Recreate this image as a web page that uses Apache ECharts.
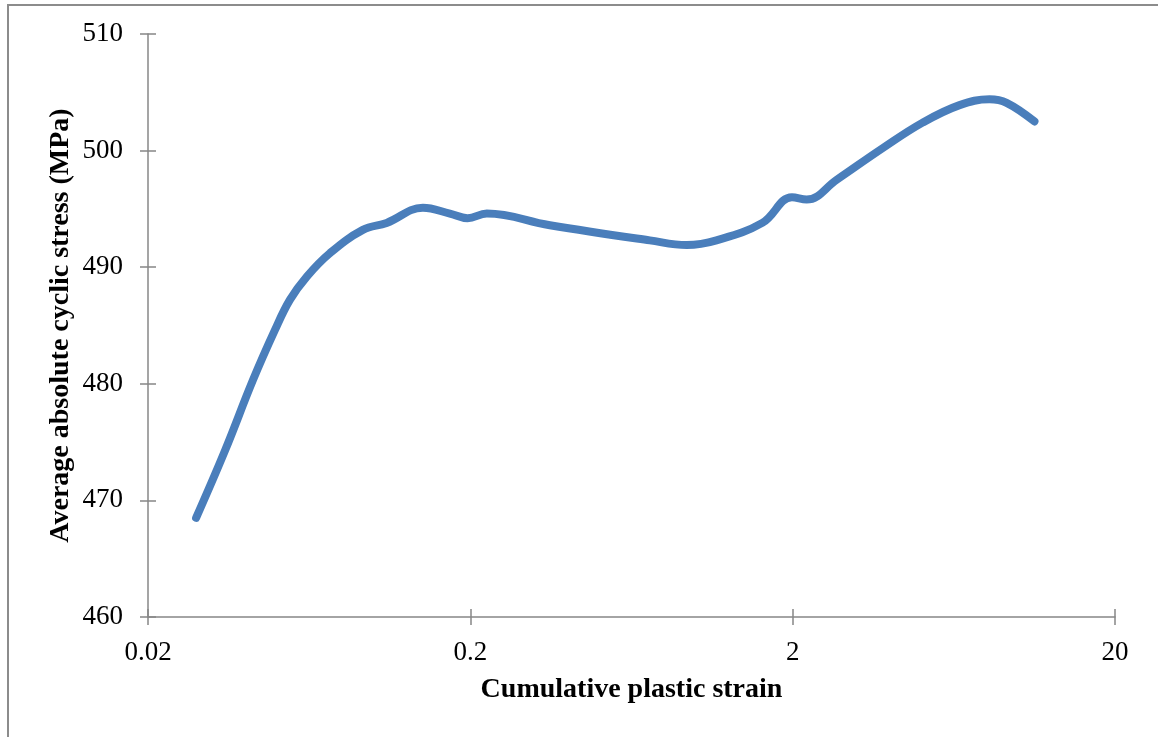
<!DOCTYPE html>
<html>
<head>
<meta charset="utf-8">
<script src="https://cdn.jsdelivr.net/npm/echarts@6/dist/echarts.min.js"></script>
<style>
  html, body { margin: 0; padding: 0; background: #ffffff; }
  #chart { width: 1158px; height: 737px; }
</style>
</head>
<body>
<div id="chart"></div>
<script>
// Cumulative plastic strain (log scale) vs average absolute cyclic stress
const strain = [0.0282, 0.0347, 0.0423, 0.0495, 0.0551, 0.0622, 0.0733, 0.0928, 0.110, 0.1425,
                0.1728, 0.196, 0.225, 0.353, 0.721, 0.938, 1.16, 1.61, 1.99, 2.21,
                2.74, 3.80, 5.06, 6.59, 8.16, 9.22, 11.25];
const stress = [468.5, 474.3, 480.3, 484.6, 487.2, 489.2, 491.2, 493.2, 493.8, 495.1,
                494.6, 494.2, 494.6, 493.6, 492.3, 491.9, 492.3, 493.8, 496.0, 495.8,
                497.5, 500.2, 502.4, 503.9, 504.4, 504.1, 502.5];
const xTickLabels = ['0.02', '0.2', '2', '20'];
const yTicks = [460, 470, 480, 490, 500, 510];

// x axis: decades above the base strain of 0.02
const X_BASE = 0.02;
const toDecade = v => Math.log10(v / X_BASE);

const FONT = '"Liberation Serif", "DejaVu Serif", serif';
const AXIS_GRAY = '#878787';

const chart = echarts.init(document.getElementById('chart'), null, { renderer: 'canvas' });

const baseX = {
  type: 'value', min: 0, max: xTickLabels.length - 1, interval: 1,
  splitLine: { show: false }
};
const baseY = {
  type: 'value', min: yTicks[0], max: yTicks[yTicks.length - 1], interval: 10,
  splitLine: { show: false }
};

chart.setOption({
  backgroundColor: '#ffffff',
  animation: false,
  graphic: [{
    type: 'rect',
    shape: { x: 8, y: 5, width: 1200, height: 800 },
    style: { fill: 'none', stroke: '#8c8c8c', lineWidth: 2 },
    silent: true, z: -1
  }],
  grid: { left: 148, right: 43, top: 34, bottom: 120 },
  xAxis: [
    Object.assign({}, baseX, {
      position: 'bottom',
      name: 'Cumulative plastic strain',
      nameLocation: 'middle',
      nameGap: 59,
      nameTextStyle: { fontFamily: FONT, fontWeight: 'bold', fontSize: 28, color: '#000' },
      axisLine: { show: true, lineStyle: { color: AXIS_GRAY, width: 1.5 } },
      axisTick: { show: true, length: 8, lineStyle: { color: AXIS_GRAY, width: 1.5 } },
      axisLabel: {
        margin: 22, fontFamily: FONT, fontSize: 27, color: '#000',
        formatter: v => xTickLabels[Math.round(v)]
      }
    }),
    Object.assign({}, baseX, {
      position: 'bottom',
      axisLine: { show: false },
      axisTick: { show: true, inside: true, length: 8, lineStyle: { color: AXIS_GRAY, width: 1.5 } },
      axisLabel: { show: false }
    })
  ],
  yAxis: [
    Object.assign({}, baseY, {
      position: 'left',
      name: 'Average absolute cyclic stress (MPa)',
      nameLocation: 'middle',
      nameGap: 73,
      nameMoveOverlap: false,
      nameTextStyle: { fontFamily: FONT, fontWeight: 'bold', fontSize: 28, color: '#000' },
      axisLine: { show: true, lineStyle: { color: AXIS_GRAY, width: 1.5 } },
      axisTick: { show: true, length: 8, lineStyle: { color: AXIS_GRAY, width: 1.5 } },
      axisLabel: { margin: 25, fontFamily: FONT, fontSize: 27, color: '#000' }
    }),
    Object.assign({}, baseY, {
      position: 'left',
      axisLine: { show: false },
      axisTick: { show: true, inside: true, length: 8, lineStyle: { color: AXIS_GRAY, width: 1.5 } },
      axisLabel: { show: false }
    })
  ],
  series: [{
    type: 'line',
    xAxisIndex: 0,
    yAxisIndex: 0,
    data: strain.map((s, i) => [toDecade(s), stress[i]]),
    smooth: 0.4,
    showSymbol: false,
    lineStyle: { color: '#4a7ebb', width: 8, cap: 'round', join: 'round' }
  }]
});
</script>
</body>
</html>
